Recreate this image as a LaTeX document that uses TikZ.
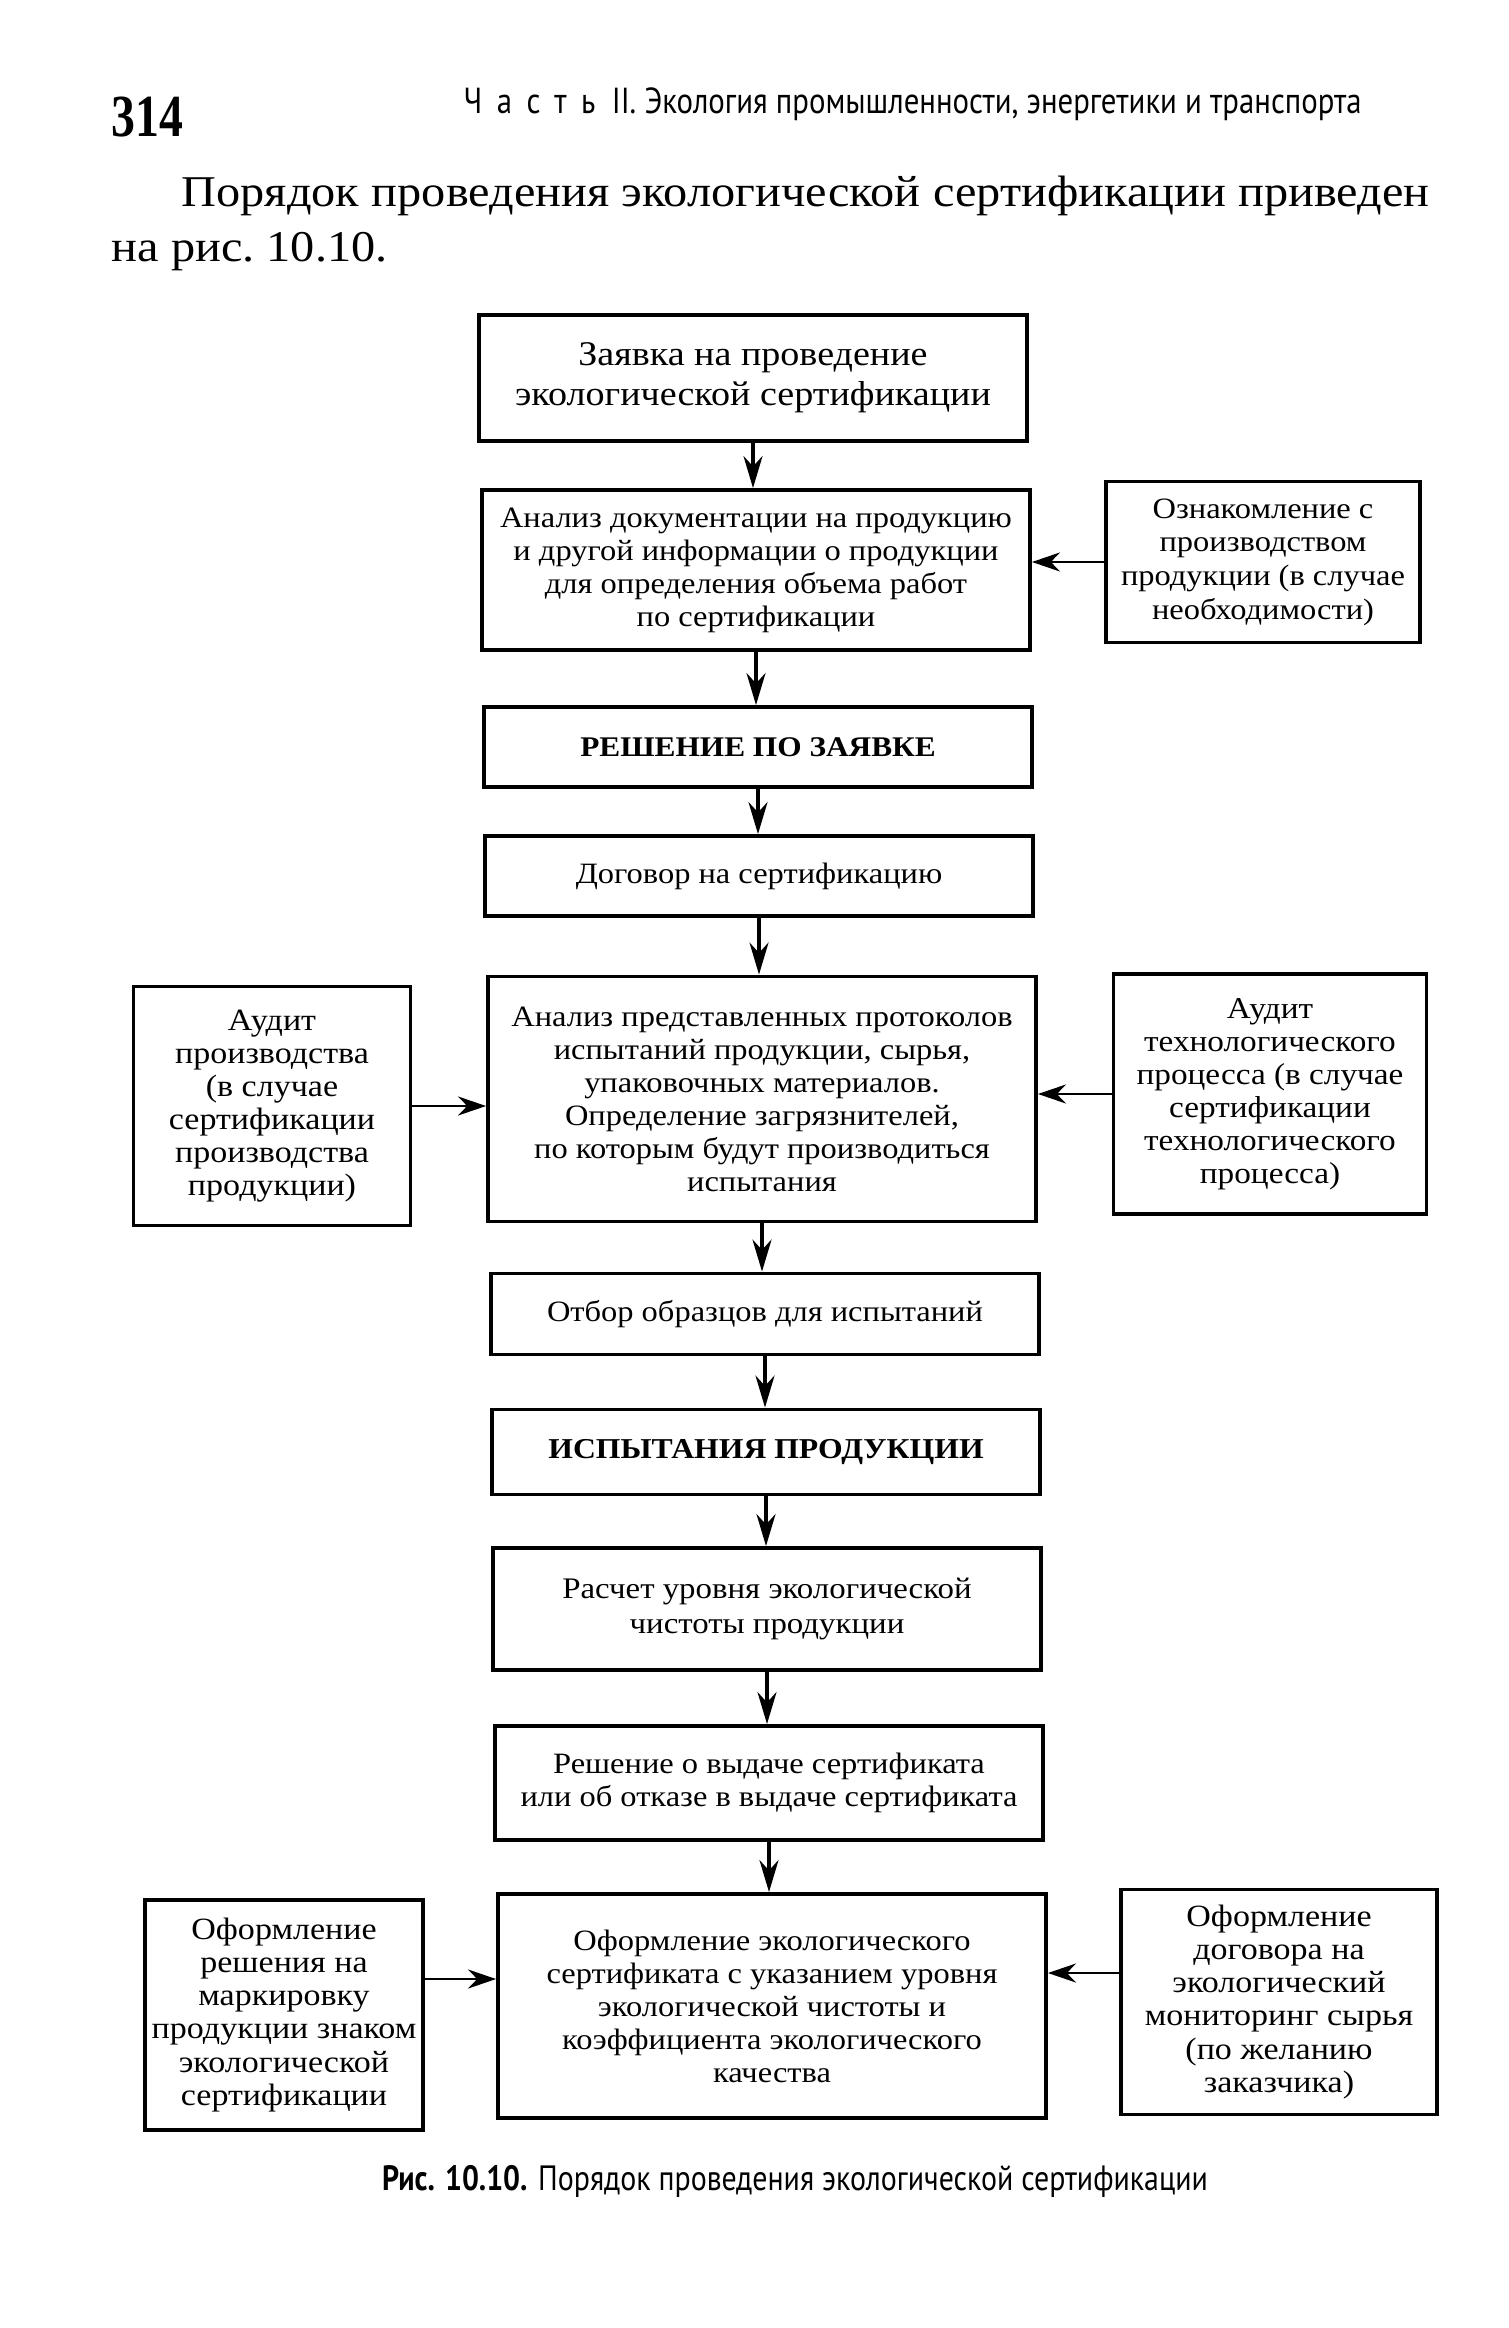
\documentclass[tikz,border=0pt]{standalone}
\usepackage{fontspec}
\setmainfont[FakeStretch=1.1]{Liberation Serif}
\newfontfamily\runfont[FakeStretch=0.85]{PT Sans}
\newfontfamily\pagefont[FakeStretch=0.8]{Liberation Serif}
\usetikzlibrary{arrows.meta}

\begin{document}
\begin{tikzpicture}[x=0.1mm, y=-0.1mm,
    stage/.style={draw, line width=1.1pt, align=center, inner sep=1pt,
      minimum width=54.8mm, font=\fontsize{8.4}{9.4}\selectfont},
    side/.style={draw, line width=1.1pt, align=center, inner sep=1pt,
      font=\fontsize{8.8}{9.4}\selectfont},
    varr/.style={line width=1pt, -{Stealth[length=3.2mm, width=1.9mm]}},
    harr/.style={line width=0.8pt, -{Stealth[length=2.8mm, width=1.9mm]}}]
    \fill[white] (0,0) rectangle (1508,2328);
    \useasboundingbox (0,0) rectangle (1508,2328);

    \node[anchor=base west, inner sep=0, font=\pagefont\bfseries\fontsize{17}{17}\selectfont] (pagenum) at (111,137) {314};
    \node[anchor=base west, inner sep=0, font=\runfont\fontsize{10.3}{10.3}\selectfont] (running) at (463,114)
      {{\addfontfeature{LetterSpace=40}Часть}\ \ II. Экология промышленности, энергетики и транспорта};
    \node[anchor=north west, inner sep=0, text width=131.8mm, align=justify, font=\fontsize{12.5}{15.6}\selectfont] (intro) at (111,175)
      {\hspace*{7mm}Порядок проведения экологической сертификации приведен\linebreak на рис.~10.10.};

    \node[stage, minimum height=12.6mm, font=\fontsize{9.85}{11.5}\selectfont] (zayavka) at (753,378)
      {Заявка на проведение\\экологической сертификации};
    \node[stage, minimum height=16mm] (andoc) at (756,570)
      {Анализ документации на продукцию\\и другой информации о продукции\\для определения объема работ\\по сертификации};
    \node[stage, minimum height=8mm, font=\fontsize{8.1}{9.4}\selectfont\bfseries] (reshzayav) at (758,747) {РЕШЕНИЕ ПО ЗАЯВКЕ};
    \node[stage, minimum height=8mm] (dogovor) at (759,876) {Договор на сертификацию};
    \node[stage, minimum height=24.5mm] (anprot) at (762,1099)
      {Анализ представленных протоколов\\испытаний продукции, сырья,\\упаковочных материалов.\\Определение загрязнителей,\\по которым будут производиться\\испытания};
    \node[stage, minimum height=8.1mm] (otbor) at (765,1314) {Отбор образцов для испытаний};
    \node[stage, minimum height=8.5mm, font=\fontsize{8.2}{10}\selectfont\bfseries] (ispyt) at (766,1452) {ИСПЫТАНИЯ ПРОДУКЦИИ};
    \node[stage, minimum height=12.2mm, font=\fontsize{8.5}{10.2}\selectfont] (raschet) at (767,1609)
      {Расчет уровня экологической\\чистоты продукции};
    \node[stage, minimum height=11.4mm] (vydacha) at (769,1783)
      {Решение о выдаче сертификата\\или об отказе в выдаче сертификата};
    \node[stage, minimum height=22.4mm] (oformlen) at (772,2006)
      {Оформление экологического\\сертификата с указанием уровня\\экологической чистоты и\\коэффициента экологического\\качества};

    \node[side, minimum width=31.4mm, minimum height=16.1mm, font=\fontsize{8.4}{9.6}\selectfont] (oznak) at (1263,562)
      {Ознакомление с\\производством\\продукции (в случае\\необходимости)};
    \node[side, minimum width=27.7mm, minimum height=23.9mm] (audprod) at (272,1106)
      {Аудит\\производства\\(в случае\\сертификации\\производства\\продукции)};
    \node[side, minimum width=31.3mm, minimum height=24mm, font=\fontsize{8.6}{9.4}\selectfont] (audtech) at (1270,1094)
      {Аудит\\технологического\\процесса (в случае\\сертификации\\технологического\\процесса)};
    \node[side, minimum width=27.8mm, minimum height=23mm] (markir) at (284,2015)
      {Оформление\\решения на\\маркировку\\продукции знаком\\экологической\\сертификации};
    \node[side, minimum width=31.6mm, minimum height=22.5mm] (monitor) at (1279,2002)
      {Оформление\\договора на\\экологический\\мониторинг сырья\\(по желанию\\заказчика)};

    \node[anchor=base, inner sep=0, font=\runfont\fontsize{10}{11}\selectfont] (caption) at (795,2190)
      {\textbf{Рис. 10.10.} Порядок проведения экологической сертификации};

    \foreach \a/\b in {zayavka/andoc, andoc/reshzayav, reshzayav/dogovor, dogovor/anprot, anprot/otbor,
                       otbor/ispyt, ispyt/raschet, raschet/vydacha, vydacha/oformlen}
      \draw[varr] (\a.south) -- (\a.south |- \b.north);

    \draw[harr] (oznak.west) -- (oznak.west -| andoc.east);
    \draw[harr] (audprod.east) -- (audprod.east -| anprot.west);
    \draw[harr] (audtech.west) -- (audtech.west -| anprot.east);
    \draw[harr] ([yshift=3.6mm]markir.east) -- ([yshift=3.6mm]markir.east -| oformlen.west);
    \draw[harr] ([yshift=2.9mm]monitor.west) -- ([yshift=2.9mm]monitor.west -| oformlen.east);
  \end{tikzpicture}
\end{document}
